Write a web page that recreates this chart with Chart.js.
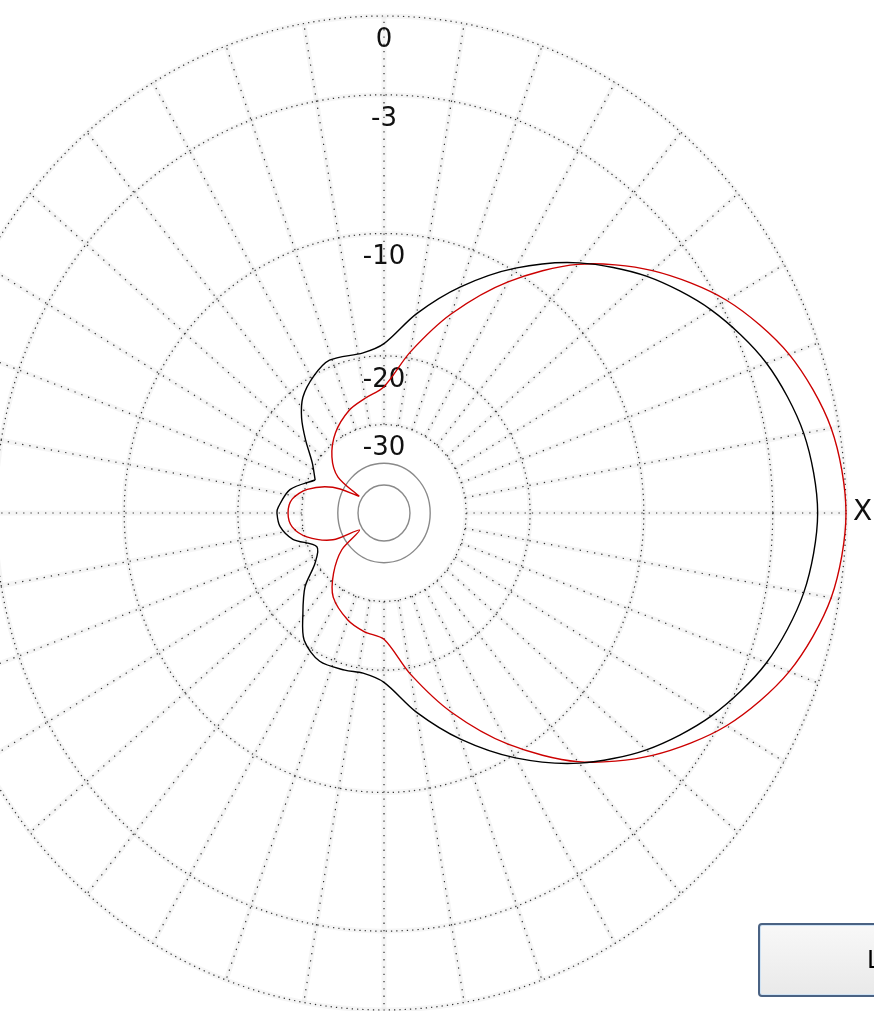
<!DOCTYPE html>
<html><head><meta charset="utf-8">
<script src="https://cdn.jsdelivr.net/npm/chart.js@4.4.0/dist/chart.umd.min.js"></script>
<style>
html,body{margin:0;padding:0;background:#fff;overflow:hidden;}
#wrap{position:relative;width:874px;height:1011px;overflow:hidden;}
#c{position:absolute;left:0;top:0;}
#btn{position:absolute;left:758px;top:923px;width:200px;height:74px;box-sizing:border-box;border:2px solid #4a6283;border-radius:4px;background:linear-gradient(#f8f8f8,#e9e9e9);box-shadow:inset 0 0 0 1px #cfe3f5;font:24px "DejaVu Sans",sans-serif;color:#000;}
#btn span{position:absolute;left:107px;top:21px;}
</style></head><body>
<div id="wrap"><canvas id="c" width="874" height="1011"></canvas><div id="btn"><span>L</span></div></div>
<script>
// ---- grid definition ----
const ringLevels = [0, -3, -10, -20, -30];
const ringLabels = ['0', '-3', '-10', '-20', '-30'];
const innerLevels = [-40, -50];
const spokeAngles = [0,10,20,30,40,50,60,70,80,90,100,110,120,130,140,150,160,170,180,190,200,210,220,230,240,250,260,270,280,290,300,310,320,330,340,350];
const axisLabel = 'X';

// ---- series (angle in degrees, level in dB) ----
const blackAngles = [0,10,20,30,40,50,60,70,80,90,98,111,119,127,133,139,147,156,167,177,180,187,195,205,214,221,229,236,245,255,262,270,280,290,300,310,320,330,340,350,360];
const blackDb = [-1.1,-1.4,-2.2,-3.5,-5.2,-7.3,-9.8,-12.6,-15.6,-18.7,-19.5,-19.3,-20.1,-21.4,-23.3,-25.9,-29.3,-31.5,-27.2,-25.6,-25.4,-25.8,-27.6,-31.8,-29.8,-25.8,-22.9,-20.4,-19.3,-19.4,-19.5,-18.7,-15.6,-12.6,-9.8,-7.3,-5.2,-3.5,-2.2,-1.4,-1.1];
const redAngles = [0,10,20,30,40,50,60,70,80,90,100,110,123,135,144,148,155,164,172,180,188,196,206,213,219,228,237,250,260,270,280,290,300,310,320,330,340,350,360];
const redDb = [0,-0.3,-1.2,-2.7,-4.8,-7.4,-10.8,-14.8,-19.3,-23.8,-25.2,-26.3,-28.6,-31.9,-36.4,-48,-36.5,-30.5,-27.9,-27.3,-27.9,-30.4,-36.4,-48,-37.2,-31.5,-27.8,-25.6,-24.6,-23.8,-19.3,-14.8,-10.8,-7.4,-4.8,-2.7,-1.2,-0.3,0];

// radial transform of the dB axis
const rad = db => Math.pow(10, db / 40);
// closed curve: drop the repeated 360° point, start the path at a cusp so the spline stays smooth elsewhere
const toClosedXY = (angles, db, startAngle) => {
  const pts = angles.slice(0, -1).map((a, i) => {
    const r = rad(db[i]), t = a * Math.PI / 180;
    return {x: r * Math.cos(t), y: r * Math.sin(t)};
  });
  const k = angles.indexOf(startAngle);
  return pts.slice(k).concat(pts.slice(0, k + 1));
};

const FONT = '26px "DejaVu Sans", sans-serif';

const gridPlugin = {
  id: 'polarGrid',
  beforeDatasetsDraw(chart) {
    const {ctx, scales: {x, y}} = chart;
    const cx = x.getPixelForValue(0), cy = y.getPixelForValue(0);
    const rx = db => x.getPixelForValue(rad(db)) - cx;
    const ry = db => cy - y.getPixelForValue(rad(db));
    const lo = Math.min(...ringLevels), hi = Math.max(...ringLevels);
    ctx.save();
    // spokes
    spokeAngles.forEach(a => {
      const t = a * Math.PI / 180, c = Math.cos(t), s = Math.sin(t);
      const x1 = cx + rx(lo) * c, y1 = cy - ry(lo) * s;
      const x2 = cx + rx(hi) * c, y2 = cy - ry(hi) * s;
      ctx.setLineDash([]);
      ctx.strokeStyle = 'rgba(0,0,0,0.04)';
      ctx.lineWidth = 5;
      ctx.beginPath(); ctx.moveTo(x1, y1); ctx.lineTo(x2, y2); ctx.stroke();
      ctx.setLineDash([1.3, 6]);
      ctx.strokeStyle = '#333';
      ctx.lineWidth = 1.2;
      ctx.beginPath(); ctx.moveTo(x1, y1); ctx.lineTo(x2, y2); ctx.stroke();
    });
    // dotted rings
    ringLevels.forEach(db => {
      ctx.setLineDash([]);
      ctx.strokeStyle = 'rgba(0,0,0,0.04)';
      ctx.lineWidth = 5;
      ctx.beginPath(); ctx.ellipse(cx, cy, rx(db), ry(db), 0, 0, Math.PI * 2); ctx.stroke();
      ctx.setLineDash([1.3, 4]);
      ctx.strokeStyle = '#333';
      ctx.lineWidth = 1.2;
      ctx.beginPath(); ctx.ellipse(cx, cy, rx(db), ry(db), 0, 0, Math.PI * 2); ctx.stroke();
    });
    // solid inner rings
    ctx.setLineDash([]);
    ctx.strokeStyle = '#8a8a8a';
    ctx.lineWidth = 1.4;
    innerLevels.forEach(db => {
      ctx.beginPath(); ctx.ellipse(cx, cy, rx(db), ry(db), 0, 0, Math.PI * 2); ctx.stroke();
    });
    // ring labels
    ctx.fillStyle = '#111';
    ctx.font = FONT;
    ctx.textAlign = 'center';
    ctx.textBaseline = 'middle';
    ringLevels.forEach((db, i) => {
      ctx.fillText(ringLabels[i], cx, cy - ry(db) + 24);
    });
    // axis label
    ctx.textAlign = 'left';
    ctx.font = '28px "DejaVu Sans", sans-serif';
    ctx.fillText(axisLabel, x.getPixelForValue(rad(0)) + 7, cy);
    ctx.restore();
  }
};

const cxPx = 384, cyPx = 513, RxPx = 462, RyPx = 497, W = 874, H = 1011;
new Chart(document.getElementById('c'), {
  type: 'scatter',
  data: {
    datasets: [
      {label: 'black', data: toClosedXY(blackAngles, blackDb, 156), showLine: true, borderColor: '#000', borderWidth: 1.4, pointRadius: 0, tension: 0.3, fill: false},
      {label: 'red', data: toClosedXY(redAngles, redDb, 148), showLine: true, borderColor: '#cc0000', borderWidth: 1.4, pointRadius: 0, tension: 0.3, fill: false}
    ]
  },
  options: {
    responsive: false,
    animation: false,
    devicePixelRatio: 1,
    layout: {padding: 0},
    plugins: {legend: {display: false}, tooltip: {enabled: false}},
    scales: {
      x: {type: 'linear', display: false, min: -cxPx / RxPx, max: (W - cxPx) / RxPx},
      y: {type: 'linear', display: false, min: -(H - cyPx) / RyPx, max: cyPx / RyPx}
    }
  },
  plugins: [gridPlugin]
});
</script>
</body></html>
